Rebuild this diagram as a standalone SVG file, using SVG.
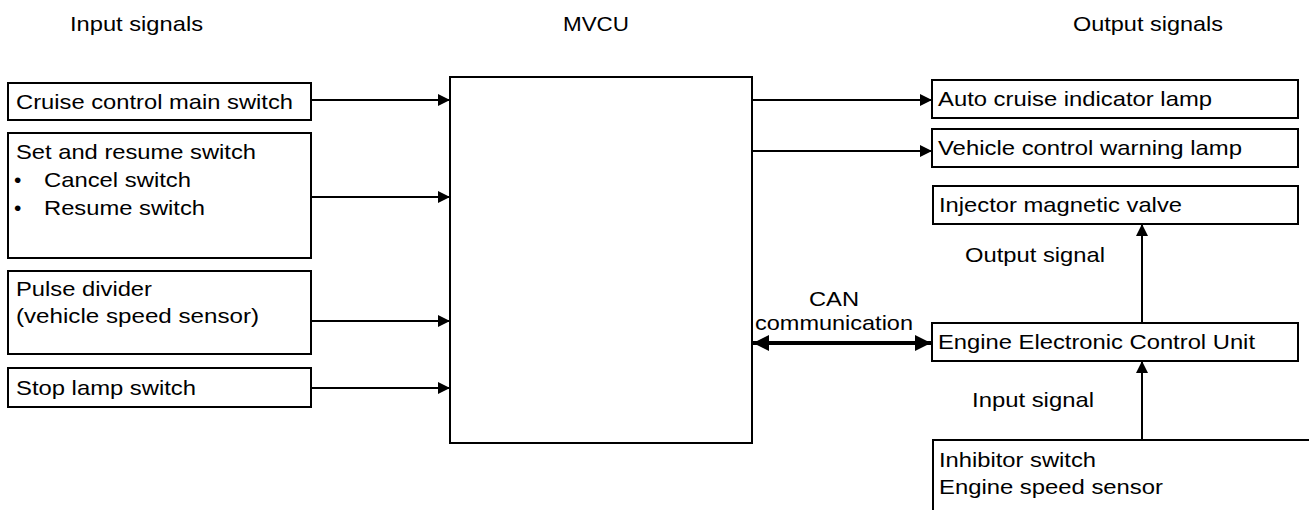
<svg xmlns="http://www.w3.org/2000/svg" width="1309" height="510" viewBox="0 0 1309 510">
<style>
.box{fill:#fff;stroke:#000;stroke-width:2}
text{font-family:"Liberation Sans",Arial,sans-serif;font-size:21px;fill:#000}
.ln{stroke:#000;stroke-width:2;fill:none}
.can{stroke:#000;stroke-width:4;fill:none}
</style>
<defs>
<marker id="ah" markerUnits="userSpaceOnUse" markerWidth="12" markerHeight="12" refX="12" refY="6" orient="auto"><path d="M0,0 L12,6 L0,12 z" fill="#000"/></marker>
<marker id="ahb" markerUnits="userSpaceOnUse" markerWidth="16" markerHeight="16" refX="16" refY="8" orient="auto-start-reverse"><path d="M0,0 L16,8 L0,16 z" fill="#000"/></marker>
</defs>
<rect width="1309" height="510" fill="#fff"/>
<g id="headers">
<text x="70" y="31" textLength="133" lengthAdjust="spacingAndGlyphs">Input signals</text>
<text x="563" y="31" textLength="66" lengthAdjust="spacingAndGlyphs">MVCU</text>
<text x="1073" y="31" textLength="150" lengthAdjust="spacingAndGlyphs">Output signals</text>
</g>
<g id="connectors">
<line class="ln" x1="311" y1="100" x2="450" y2="100" marker-end="url(#ah)"/>
<line class="ln" x1="311" y1="197" x2="450" y2="197" marker-end="url(#ah)"/>
<line class="ln" x1="311" y1="321" x2="450" y2="321" marker-end="url(#ah)"/>
<line class="ln" x1="311" y1="388" x2="450" y2="388" marker-end="url(#ah)"/>
<line class="ln" x1="752" y1="100" x2="932" y2="100" marker-end="url(#ah)"/>
<line class="ln" x1="752" y1="151" x2="932" y2="151" marker-end="url(#ah)"/>
<line class="can" x1="753" y1="343" x2="931" y2="343" marker-start="url(#ahb)" marker-end="url(#ahb)"/>
<line class="ln" x1="1142" y1="323" x2="1142" y2="224" marker-end="url(#ah)"/>
<line class="ln" x1="1142" y1="440" x2="1142" y2="361" marker-end="url(#ah)"/>
<text x="834" y="306" text-anchor="middle" textLength="50" lengthAdjust="spacingAndGlyphs">CAN</text>
<text x="834" y="330" text-anchor="middle" textLength="158" lengthAdjust="spacingAndGlyphs">communication</text>
<text x="965" y="262" textLength="140" lengthAdjust="spacingAndGlyphs">Output signal</text>
<text x="972" y="407" textLength="122" lengthAdjust="spacingAndGlyphs">Input signal</text>
</g>
<g id="cruise-main-switch">
<rect class="box" x="8" y="83" width="303" height="37"/>
<text x="16" y="109" textLength="277" lengthAdjust="spacingAndGlyphs">Cruise control main switch</text>
</g>
<g id="set-resume-switch">
<rect class="box" x="8" y="133" width="303" height="125"/>
<text x="16" y="159" textLength="240" lengthAdjust="spacingAndGlyphs">Set and resume switch</text>
<text x="14" y="187">•</text>
<text x="44" y="187" textLength="147" lengthAdjust="spacingAndGlyphs">Cancel switch</text>
<text x="14" y="215">•</text>
<text x="44" y="215" textLength="161" lengthAdjust="spacingAndGlyphs">Resume switch</text>
</g>
<g id="pulse-divider">
<rect class="box" x="8" y="271" width="303" height="83"/>
<text x="16" y="296" textLength="136" lengthAdjust="spacingAndGlyphs">Pulse divider</text>
<text x="16" y="323" textLength="243" lengthAdjust="spacingAndGlyphs">(vehicle speed sensor)</text>
</g>
<g id="stop-lamp-switch">
<rect class="box" x="8" y="368" width="303" height="39"/>
<text x="16" y="395" textLength="180" lengthAdjust="spacingAndGlyphs">Stop lamp switch</text>
</g>
<g id="mvcu">
<rect class="box" x="450" y="77" width="302" height="366"/>
</g>
<g id="auto-cruise-lamp">
<rect class="box" x="932" y="80" width="366" height="38"/>
<text x="938" y="106" textLength="274" lengthAdjust="spacingAndGlyphs">Auto cruise indicator lamp</text>
</g>
<g id="vehicle-warning-lamp">
<rect class="box" x="932" y="129" width="366" height="38"/>
<text x="938" y="155" textLength="304" lengthAdjust="spacingAndGlyphs">Vehicle control warning lamp</text>
</g>
<g id="injector-valve">
<rect class="box" x="933" y="186" width="365" height="38"/>
<text x="939" y="212" textLength="243" lengthAdjust="spacingAndGlyphs">Injector magnetic valve</text>
</g>
<g id="engine-ecu">
<rect class="box" x="932" y="323" width="366" height="38"/>
<text x="938" y="349" textLength="317" lengthAdjust="spacingAndGlyphs">Engine Electronic Control Unit</text>
</g>
<g id="inhibitor-sensors">
<rect class="box" x="933" y="440" width="390" height="100"/>
<text x="939" y="467" textLength="157" lengthAdjust="spacingAndGlyphs">Inhibitor switch</text>
<text x="939" y="494" textLength="224" lengthAdjust="spacingAndGlyphs">Engine speed sensor</text>
</g>
</svg>
